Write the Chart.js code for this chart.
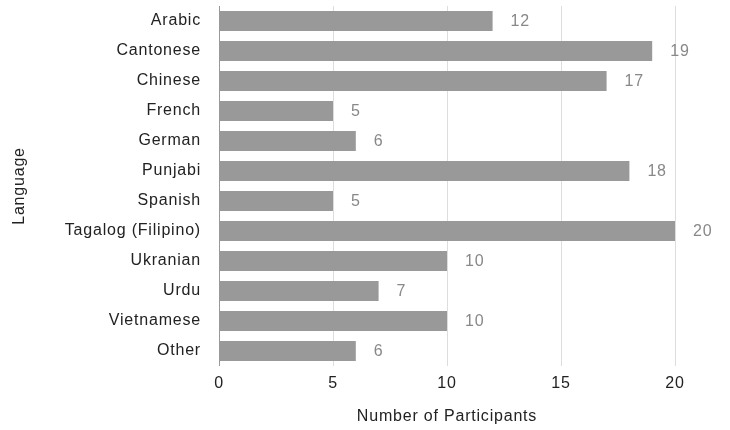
<!DOCTYPE html>
<html>
<head>
<meta charset="utf-8">
<script src="https://cdn.jsdelivr.net/npm/chart.js@4.4.0/dist/chart.umd.min.js"></script>
<style>
  body { margin: 0; background: #fff; }
  #wrap { width: 730px; height: 430px; }
</style>
</head>
<body>
<div id="wrap"><canvas id="langChart"></canvas></div>
<script>
const languages = [
  "Arabic", "Cantonese", "Chinese", "French", "German", "Punjabi",
  "Spanish", "Tagalog (Filipino)", "Ukranian", "Urdu", "Vietnamese", "Other",
];
const participants = [12, 19, 17, 5, 6, 18, 5, 20, 10, 7, 10, 6];
const xTicks = [0, 5, 10, 15, 20];

const FONT = "Arial, 'Liberation Sans', sans-serif";
const SPACING = "0.8px";

// slightly wider lettering for every text on the canvas
const wideText = {
  id: "wideText",
  beforeUpdate(chart) {
    chart.ctx.letterSpacing = SPACING;
  },
  beforeDraw(chart) {
    chart.ctx.letterSpacing = SPACING;
  },
};

// writes the count just past the end of every bar
const barValues = {
  id: "barValues",
  afterDatasetsDraw(chart) {
    const c = chart.ctx;
    const meta = chart.getDatasetMeta(0);
    c.save();
    c.font = "16px " + FONT;
    c.fillStyle = "#888";
    c.textAlign = "left";
    c.textBaseline = "middle";
    meta.data.forEach((bar, i) => {
      c.fillText(String(participants[i]), bar.x + 18, bar.y + 1);
    });
    c.restore();
  },
};

const ctx = document.getElementById("langChart").getContext("2d");

new Chart(ctx, {
  type: "bar",
  data: {
    labels: languages,
    datasets: [
      {
        label: "Participants",
        data: participants,
        backgroundColor: "#999",
        borderWidth: 0,
        categoryPercentage: 1,
        barPercentage: 0.66,
      },
    ],
  },
  options: {
    indexAxis: "y",
    responsive: true,
    maintainAspectRatio: false,
    animation: false,
    layout: { padding: { top: 6, right: 55, left: 0, bottom: 0 } },
    plugins: {
      legend: { display: false },
      tooltip: { enabled: false },
    },
    scales: {
      x: {
        min: 0,
        max: 20,
        afterBuildTicks: (scale) => {
          scale.ticks = xTicks.map((v) => ({ value: v }));
        },
        afterFit: (scale) => {
          scale.height = 64;
          scale.paddingLeft = 0;
          scale.paddingRight = 0;
        },
        border: { display: false },
        grid: {
          drawTicks: false,
          color: (c) => (c.tick && c.tick.value === 0 ? "#999" : "#ddd"),
        },
        ticks: {
          color: "#222",
          padding: 8,
          font: { size: 16, family: FONT },
        },
        title: {
          display: true,
          text: "Number of Participants",
          color: "#222",
          padding: { top: 6 },
          font: { size: 16, family: FONT },
        },
      },
      y: {
        afterFit: (scale) => {
          scale.width = 219;
          scale.paddingTop = 0;
          scale.paddingBottom = 0;
        },
        border: { display: false },
        grid: { display: false, drawTicks: false },
        ticks: {
          color: "#222",
          padding: 18,
          font: { size: 16, family: FONT },
        },
        title: {
          display: true,
          text: "Language",
          color: "#222",
          padding: { top: 10, bottom: 0 },
          font: { size: 16, family: FONT },
        },
      },
    },
  },
  plugins: [wideText, barValues],
});
</script>
</body>
</html>
